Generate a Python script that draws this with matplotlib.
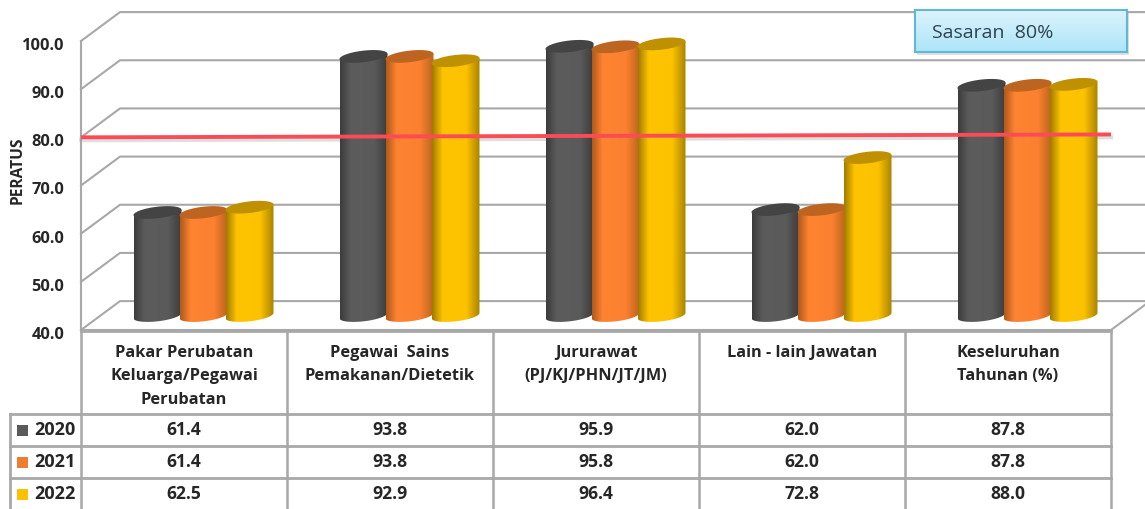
import numpy as np
import matplotlib
matplotlib.use("Agg")
import matplotlib.pyplot as plt
from matplotlib.colors import LinearSegmentedColormap
from matplotlib.patches import Polygon, Rectangle
from matplotlib.transforms import ScaledTranslation

categories = [
    "Pakar Perubatan\nKeluarga/Pegawai\nPerubatan",
    "Pegawai  Sains\nPemakanan/Dietetik",
    "Jururawat\n(PJ/KJ/PHN/JT/JM)",
    "Lain - lain Jawatan",
    "Keseluruhan\nTahunan (%)",
]
years = ["2020", "2021", "2022"]
v2020 = [61.4, 93.8, 95.9, 62.0, 87.8]
v2021 = [61.4, 93.8, 95.8, 62.0, 87.8]
v2022 = [62.5, 92.9, 96.4, 72.8, 88.0]
yticks = [40, 50, 60, 70, 80, 90, 100]
target_x = [0.0, 5.0]
target_y = [80.0, 80.6]

plt.rcParams["font.family"] = ["Open Sans", "DejaVu Sans"]
W, H = 1145, 509
GRID = "#a8a8a8"
TXT = "#262626"
stops = [0, 0.22, 0.72, 1]
body_cols = [
    ["#3c3c3c", "#5c5c5c", "#5a5a5a", "#3c3c3c"],
    ["#b05a1c", "#ff8432", "#fb802f", "#b9651f"],
    ["#a37c00", "#ffc400", "#fcc200", "#a98400"],
]
top_cols = ["#444444", "#bd6420", "#bf9000"]
legend_cols = ["#5a5a5a", "#ed7d31", "#ffc000"]


def px_box(x0, y0, x1, y1):
    return [x0 / W, 1 - y1 / H, (x1 - x0) / W, (y1 - y0) / H]


fig = plt.figure(figsize=(W / 100, H / 100), dpi=100)
ax = fig.add_axes(px_box(81, 41, 1111, 330))
ax.set_xlim(0, 5)
ax.set_ylim(40, 100)
ax.set_xticks([])
ax.set_yticks(yticks)
ax.set_yticklabels([f"{v:.1f}" for v in yticks], fontsize=11.8, fontweight="bold", color=TXT)
ax.tick_params(axis="y", length=0, pad=12)
# label paksi y turun sikit
for lbl in ax.get_yticklabels():
    lbl.set_transform(lbl.get_transform() + ScaledTranslation(0, -3 / 100, fig.dpi_scale_trans))
ax.set_ylabel("PERATUS", fontsize=11.2, fontweight="bold", color=TXT)
ax.yaxis.set_label_coords(-0.054, 0.554)
for s in ["top", "right", "bottom"]:
    ax.spines[s].set_visible(False)
ax.spines["left"].set_color(GRID)
ax.spines["left"].set_linewidth(1.5)
ax.patch.set_alpha(0)

# kedalaman lantai 3D
dx, dy = 39 / 206, 6.0
xmax = (W - 81) / 206
for v in yticks:
    ax.plot([0, dx, xmax], [v, v + dy, v + dy], color=GRID, lw=1.5, clip_on=False, zorder=1)
ax.plot([0, 5], [40, 40], color=GRID, lw=1.5, clip_on=False, zorder=1)
ax.plot([5, xmax], [40, 40 + dy * (xmax - 5) / dx], color=GRID, lw=1.5, clip_on=False, zorder=1)

# garis sasaran, bayang di belakang silinder
ax.plot(target_x, [v - 0.6 for v in target_y], color="#c8c8c8", lw=3, alpha=0.6, clip_on=False, zorder=2)

# silinder
bar_w = 46 / 206
t = np.linspace(0, 2 * np.pi, 100)
tb = np.linspace(np.pi, 2 * np.pi, 50)
a, b, k = bar_w / 2 + 1 / 206, 1.2, 0.55
z = 3
for i, vals in enumerate([v2020, v2021, v2022]):
    cmap = LinearSegmentedColormap.from_list(f"c{i}", list(zip(stops, body_cols[i])))
    for j, v in enumerate(vals):
        xc = j + 0.5 + dx / 2 + (i - 1) * bar_w
        top = v + dy / 2
        base = 40 + dy / 2
        low_x = xc + a * np.cos(tb)
        low_y = base + b * np.sin(tb) + k * np.cos(tb)
        outline = np.column_stack([
            np.r_[xc - a, low_x, xc + a],
            np.r_[top - k, low_y, top + k],
        ])
        im = ax.imshow(np.linspace(0, 1, 64).reshape(1, -1), cmap=cmap, aspect="auto",
                       extent=[xc - a, xc + a, base - b - k, top + b + k],
                       interpolation="bilinear", zorder=z)
        poly = Polygon(outline, transform=ax.transData, facecolor="none", edgecolor="none")
        ax.add_patch(poly)
        im.set_clip_path(poly)
        cap = np.column_stack([xc + a * np.cos(t), top + b * np.sin(t) + k * np.cos(t)])
        ax.add_patch(Polygon(cap, facecolor=top_cols[i], edgecolor="none", zorder=z + 0.1, clip_on=False))
        z += 1
ax.set_xlim(0, 5)
ax.set_ylim(40, 100)

# garis sasaran
ax.plot(target_x, target_y, color="#fb4b57", lw=2.8, clip_on=False, zorder=41, solid_capstyle="butt")

# jadual
tb_ax = fig.add_axes(px_box(81, 331, 1111, 509))
tb_ax.set_xlim(0, 5)
tb_ax.set_ylim(509, 331)
tb_ax.axis("off")
row_top = [414, 446, 478]
left = -71 / 206
for y in row_top:
    tb_ax.plot([left, 5], [y, y], color=GRID, lw=2, clip_on=False)
tb_ax.plot([0, 5], [331, 331], color=GRID, lw=2, clip_on=False)
for c in range(6):
    tb_ax.plot([c, c], [331, 509], color=GRID, lw=1.8, clip_on=False)
tb_ax.plot([left, left], [414, 509], color=GRID, lw=2, clip_on=False)
for c, name in enumerate(categories):
    tb_ax.text(c + 0.5, 345, name, ha="center", va="top", fontsize=11.8, fontweight="bold",
               color=TXT, linespacing=1.62)
for r, vals in enumerate([v2020, v2021, v2022]):
    yc = row_top[r] + 16
    tb_ax.add_patch(Rectangle((-64 / 206, yc - 5.5), 11 / 206, 11, facecolor=legend_cols[r], edgecolor="none", clip_on=False))
    tb_ax.text(-47 / 206, yc, years[r], ha="left", va="center", fontsize=13, fontweight="bold", color=TXT)
    for c, v in enumerate(vals):
        tb_ax.text(c + 0.5, yc, f"{v:.1f}", ha="center", va="center", fontsize=12.6, fontweight="bold", color=TXT)

# kotak sasaran
sh = fig.add_axes(px_box(917, 13, 1129, 55))
sh.axis("off")
sh.add_patch(Rectangle((0, 0), 1, 1, transform=sh.transAxes, facecolor="#d0d0d0", edgecolor="none", alpha=0.7))
box = fig.add_axes(px_box(915, 10, 1127, 52))
box.imshow(np.linspace(0, 1, 32).reshape(-1, 1), aspect="auto",
           cmap=LinearSegmentedColormap.from_list("kotak", ["#dcf3fb", "#ade5f9"]))
box.set_xticks([])
box.set_yticks([])
for s in box.spines.values():
    s.set_color("#62b8d2")
    s.set_linewidth(1.5)
box.text(17 / 212, 0.45, "Sasaran  80%", transform=box.transAxes, ha="left", va="center",
         fontsize=14, color="#2e4450")

fig.savefig("out.png", dpi=100)
